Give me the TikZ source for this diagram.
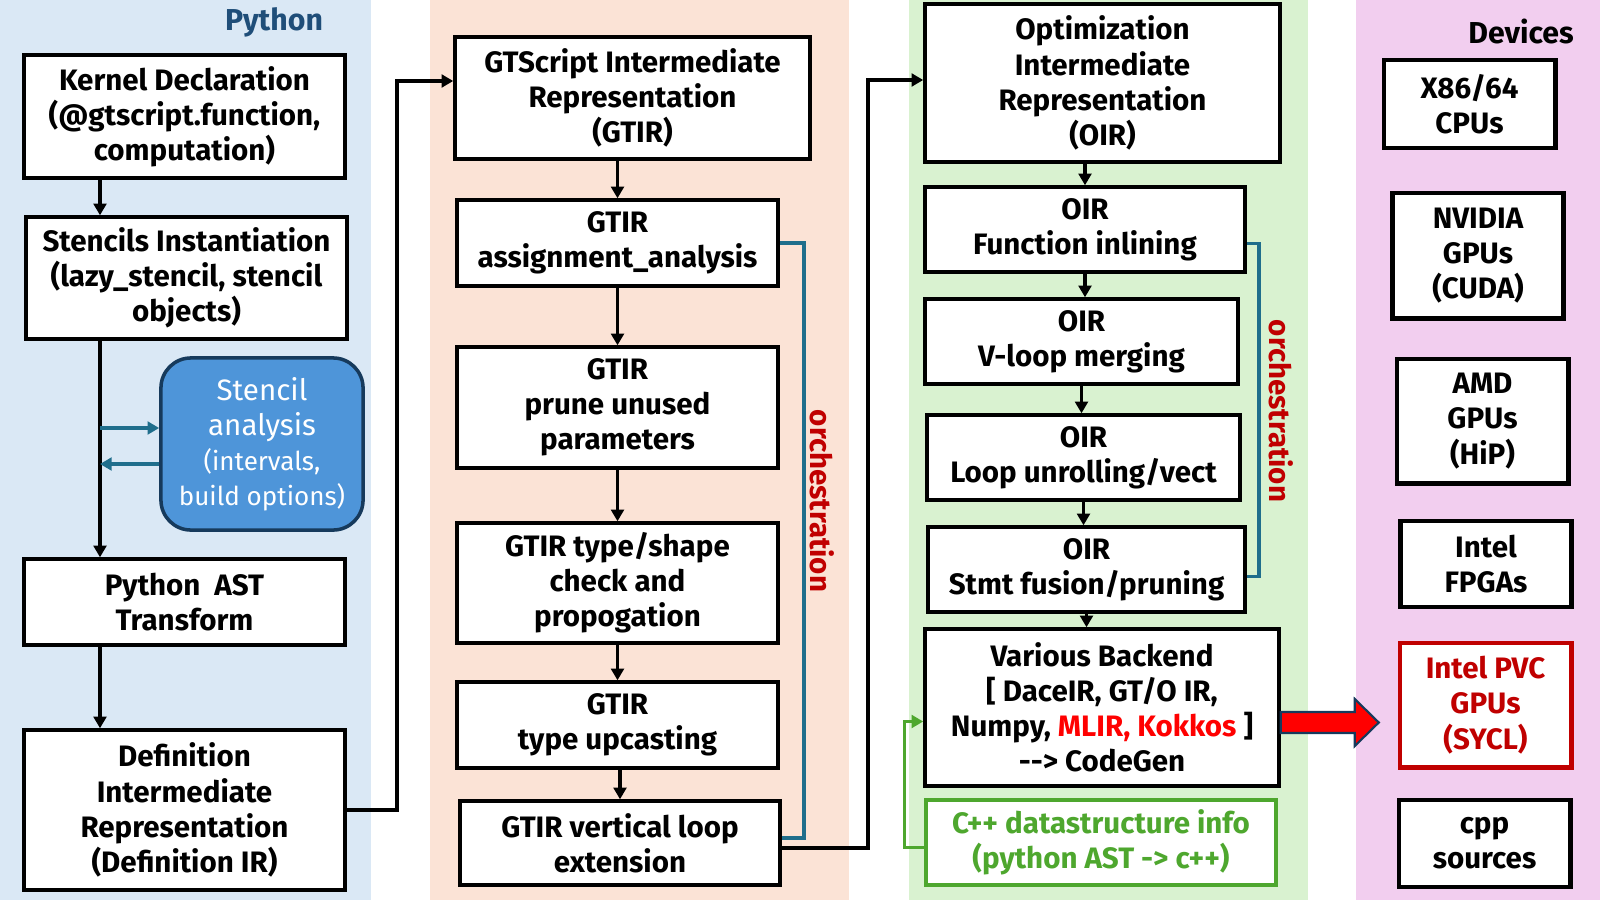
\documentclass[tikz,border=0pt]{standalone}
\usepackage{fontspec}
\setmainfont{Fira Sans}
\usetikzlibrary{arrows.meta,calc}
\definecolor{pybg}{HTML}{DAE8F5}
\definecolor{gtbg}{HTML}{FBE3D6}
\definecolor{oirbg}{HTML}{D9F2D0}
\definecolor{devbg}{HTML}{F2CEEF}
\definecolor{orchline}{HTML}{1F6E8C}
\definecolor{orchtext}{HTML}{C00000}
\definecolor{anafill}{HTML}{4E95D9}
\definecolor{anaedge}{HTML}{163A5C}
\definecolor{cppgreen}{HTML}{4EA72E}
\definecolor{pytitle}{HTML}{1F4E79}

\begin{document}
\begin{tikzpicture}[x=0.01cm,y=-0.01cm]
        \tikzstyle{box} = [draw,line width=0.95pt,fill=white,align=center,inner sep=0pt,font=\fontsize{8.4}{10}\selectfont\bfseries]
        \tikzstyle{dev} = [box,line width=1.4pt,minimum width=1.71cm]
        \tikzstyle{arr} = [line width=0.95pt,-{Triangle[length=3.3pt,width=3.6pt]}]
        \tikzstyle{orch} = [orchline,line width=1pt]
        \tikzstyle{orchlabel} = [rotate=-90,text=orchtext,font=\fontsize{8.4}{10}\selectfont\bfseries]
        \useasboundingbox (0,0) rectangle (1600,900);
        \fill[pybg] (0,0) rectangle (371,900);
        \fill[gtbg] (430,0) rectangle (849,900);
        \fill[oirbg] (909,0) rectangle (1308,900);
        \fill[devbg] (1356,0) rectangle (1600,900);

        \node[text=pytitle,font=\fontsize{8.6}{10}\selectfont\bfseries] (pylabel) at (274,22) {Python};
        \node[font=\fontsize{8.6}{10}\selectfont\bfseries] (devlabel) at (1521,31) {Devices};

        \node[box,minimum width=3.21cm,minimum height=1.23cm] (kern) at (184.5,116.5) {Kernel Declaration\\(@gtscript.function,\\computation)};
        \node[box,minimum width=3.21cm,minimum height=1.22cm] (stinst) at (186.5,278) {Stencils Instantiation\\(lazy\_stencil, stencil\\objects)};
        \node[draw=anaedge,fill=anafill,line width=1pt,rounded corners=0.3cm,text=white,align=center,minimum width=2.02cm,minimum height=1.72cm,inner sep=0pt,font=\fontsize{8.4}{10}\selectfont] (stana) at (262,444)
          {Stencil\\analysis\\{\fontsize{7.4}{9.4}\selectfont (intervals,}\\{\fontsize{7.4}{9.4}\selectfont build options)}};
        \node[box,minimum width=3.21cm,minimum height=0.86cm] (pyast) at (184.5,602) {Python~ AST\\Transform};
        \node[box,minimum width=3.21cm,minimum height=1.6cm] (defir) at (184.5,810) {Definition\\Intermediate\\Representation\\(Definition IR)};

        \node[box,minimum width=3.55cm,minimum height=1.22cm] (gtir) at (632.5,98) {GTScript Intermediate\\Representation\\(GTIR)};
        \node[box,minimum width=3.21cm,minimum height=0.86cm] (assign) at (617.5,243) {GTIR\\assignment\_analysis};
        \node[box,minimum width=3.21cm,minimum height=1.21cm] (prune) at (617.5,407.5) {GTIR\\prune unused\\parameters};
        \node[box,minimum width=3.21cm,minimum height=1.2cm] (check) at (617.5,583) {GTIR type/shape\\check and\\propogation};
        \node[box,minimum width=3.21cm,minimum height=0.86cm] (upcast) at (617.5,725) {GTIR\\type upcasting};
        \node[box,minimum width=3.2cm,minimum height=0.84cm] (vloop) at (620,843) {GTIR vertical loop\\extension};
        \node[orchlabel] (orchA) at (822,501) {orchestration};

        \node[box,minimum width=3.55cm,minimum height=1.58cm] (oir) at (1102.5,83) {Optimization\\Intermediate\\Representation\\(OIR)};
        \node[box,minimum width=3.2cm,minimum height=0.85cm] (inline) at (1085,229.5) {OIR\\Function inlining};
        \node[box,minimum width=3.13cm,minimum height=0.85cm] (vmerge) at (1081.5,341.5) {OIR\\V-loop merging};
        \node[box,minimum width=3.13cm,minimum height=0.85cm] (unroll) at (1083.5,457.5) {OIR\\Loop unrolling/vect};
        \node[box,minimum width=3.17cm,minimum height=0.85cm] (fusion) at (1086.5,569.5) {OIR\\Stmt fusion/pruning};
        \node[box,minimum width=3.54cm,minimum height=1.57cm] (backend) at (1102,707.5) {Various Backend\\{[} DaceIR, GT/O IR,\\Numpy, \textcolor{red}{MLIR, Kokkos} ]\\-{}-> CodeGen};
        \node[box,draw=cppgreen,text=cppgreen,line width=1.2pt,minimum width=3.5cm,minimum height=0.85cm] (cppinfo) at (1101,842.5) {C++ datastructure info\\(python AST -> c++)};
        \node[orchlabel] (orchB) at (1281,411) {orchestration};

        \node[dev,minimum height=0.88cm] (x86) at (1469.5,104) {X86/64\\CPUs};
        \node[dev,minimum height=1.25cm] (nvidia) at (1478,255.5) {NVIDIA\\GPUs\\(CUDA)};
        \node[dev,minimum height=1.24cm] (amd) at (1482.5,421) {AMD\\GPUs\\(HiP)};
        \node[dev,minimum height=0.86cm] (fpga) at (1486,564) {Intel\\FPGAs};
        \node[dev,draw=orchtext,text=orchtext,minimum height=1.24cm] (pvc) at (1485.5,705) {Intel PVC\\GPUs\\(SYCL)};
        \node[dev,minimum height=0.87cm] (cppsrc) at (1484.5,843.5) {cpp\\sources};

        \coordinate (trunk) at (100,0);
        \coordinate (jumpA) at (397,81);
        \coordinate (jumpB) at (868,80);
        \coordinate (anaIn) at ($(stana.west)+(0,-16)$);
        \coordinate (anaOut) at ($(stana.west)+(0,20)$);
        \draw[arr] (kern.south -| trunk) -- (stinst.north -| trunk);
        \draw[arr] (stinst.south -| trunk) -- (pyast.north -| trunk);
        \draw[arr] (pyast.south -| trunk) -- (defir.north -| trunk);
        \draw[arr,orchline] (anaIn -| trunk) -- (anaIn);
        \draw[arr,orchline] (anaOut) -- (anaOut -| trunk);
        \draw[arr] (defir.east) -| (jumpA) -- (jumpA -| gtir.west);
        \foreach \a/\b in {gtir/assign,assign/prune,prune/check,check/upcast,upcast/vloop}
          \draw[arr] (\a.south -| \b) -- (\b.north);
        \draw[arr] ($(vloop.east)+(0,5)$) -| (jumpB) -- (jumpB -| oir.west);
        \draw[orch] (assign.east) -- ++(24,0) |- ($(vloop.east)+(0,-5)$);
        \draw[arr] (oir.south -| inline) -- (inline.north);
        \foreach \a/\b in {inline/vmerge,vmerge/unroll,unroll/fusion,fusion/backend}
          \draw[arr] (\a.south) -- (\a.south |- \b.north);
        \draw[orch] ($(inline.east)+(0,14)$) -- ++(12,0) |- ($(fusion.east)+(0,7)$);
        \draw[arr,cppgreen] ($(cppinfo.west)+(0,5)$) -- ++(-19,0) |- ($(backend.west)+(0,14)$);
        \draw[fill=red,draw=anaedge,line width=0.6pt] ($(backend.east)+(0,15)$) coordinate (fat) ++(0,-10.5) -- ++(74,0) -- ++(0,-13) -- ++(24,23.5) -- ++(-24,23.5) -- ++(0,-13) -- ++(-74,0) -- cycle;
      \end{tikzpicture}
\end{document}
